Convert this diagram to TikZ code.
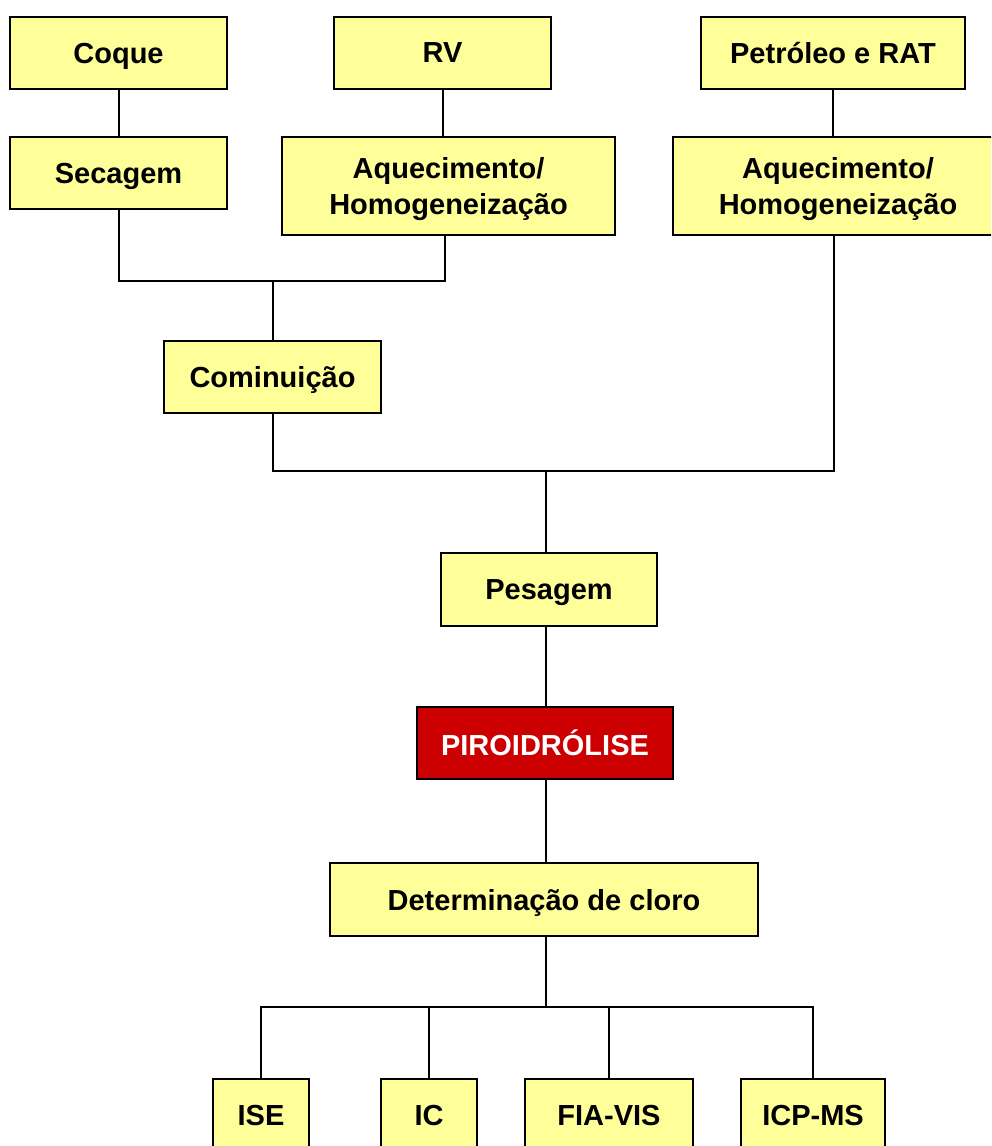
\documentclass[tikz,border=0pt]{standalone}
\usepackage{fontspec}
\setmainfont{Liberation Sans}
\usepackage{xcolor}
\usepackage{tikz}
\usetikzlibrary{positioning,calc}
\definecolor{boxyellow}{HTML}{FFFF99}
\definecolor{boxred}{HTML}{CC0000}

\begin{document}
\begin{tikzpicture}[x=1pt,y=-1pt,line width=2pt,every node/.style={align=center,font=\fontsize{29}{36}\selectfont\bfseries},box/.style={draw,fill=boxyellow,inner sep=0pt,text depth=0pt,minimum height=72pt},hotbox/.style={box,fill=boxred,text=white}]
\useasboundingbox (0,0) rectangle (991,1146);
\clip (0,0) rectangle (991,1146);
\node[box,minimum width=217pt] (coque) at (118.5,53) {Coque};
\node[box,minimum width=217pt] (rv) at (442.5,53) {RV};
\node[box,minimum width=264pt] (petro) at (833,53) {Petróleo e RAT};
\node[box,minimum width=217pt] (sec) at (118.5,173) {Secagem};
\node[box,minimum width=333pt,minimum height=98pt] (aqmid) at (448.5,186) {Aquecimento/\\Homogeneização};
\node[box,minimum width=330pt,minimum height=98pt] (aqright) at (838,186) {Aquecimento/\\Homogeneização};
\node[box,minimum width=217pt] (comin) at (272.5,377) {Cominuição};
\node[box,minimum width=216pt,minimum height=73pt] (pes) at (549,589.5) {Pesagem};
\node[hotbox,minimum width=256pt] (piro) at (545,743) {PIROIDRÓLISE};
\node[box,minimum width=428pt,minimum height=73pt] (det) at (544,899.5) {Determinação de cloro};
\node[box,minimum width=96pt] (ise) at (261,1115) {ISE};
\node[box,minimum width=96pt] (ic) at (429,1115) {IC};
\node[box,minimum width=168pt] (fia) at (609,1115) {FIA-VIS};
\node[box,minimum width=144pt] (icp) at (813,1115) {ICP-MS};
\coordinate (j1) at (272.5,281);
\coordinate (j2) at (546,471);
\coordinate (j3) at (546,1007);
\draw (coque.south)--(sec.north);\draw (rv.south)--(rv.south |- aqmid.north);
\draw (petro.south)--(petro.south |- aqright.north);
\draw (sec.south) |- (j1) -| ([xshift=-4pt]aqmid.south);\draw (j1)--(comin.north);
\draw (comin.south) |- (j2) -| ([xshift=-4pt]aqright.south);\draw (j2)--(j2 |- pes.north);
\draw (j2 |- pes.south)--(j2 |- piro.north);\draw (j2 |- piro.south)--(j2 |- det.north);
\draw (j2 |- det.south)--(j3);
\draw (ise.north) |- (j3) -| (icp.north);
\draw (ic.north)--(ic.north |- j3);\draw (fia.north)--(fia.north |- j3);
\end{tikzpicture}
\end{document}
